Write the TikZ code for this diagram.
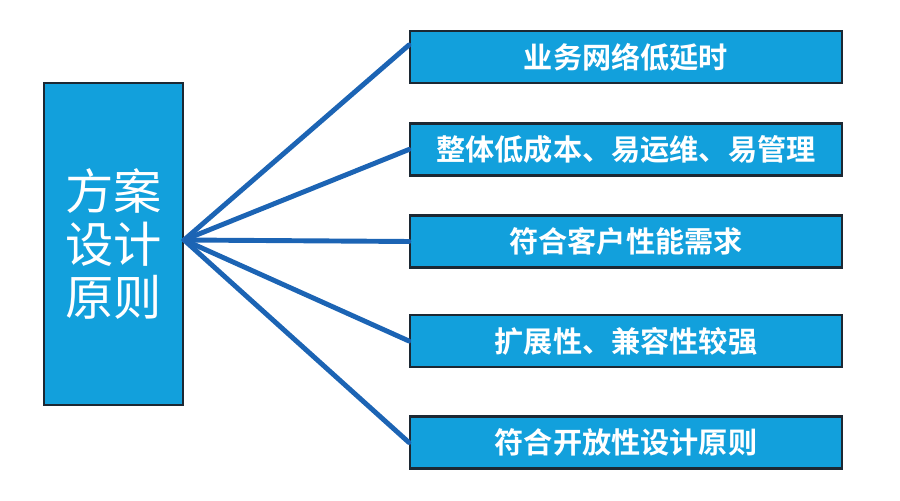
\documentclass[tikz,border=0pt]{standalone}
\usepackage{fontspec}
\usepackage{xcolor}
\usepackage{tikz}
\usetikzlibrary{positioning}
\newfontfamily\cjk{Noto Sans CJK SC}[BoldFont={Noto Sans CJK SC Bold}]
\definecolor{boxblue}{HTML}{12A0DC}
\definecolor{linkblue}{HTML}{1C64B4}
\definecolor{edgedark}{HTML}{1C2833}
\tikzset{
  % Diagram styles
  mainbox/.style={rectangle, minimum width=2.78cm, minimum height=6.44cm, draw=edgedark, line width=1.2pt, fill=boxblue, text=white, align=center, font=\cjk\fontsize{27.5}{30}\selectfont},
  itembox/.style={rectangle, minimum width=8.64cm, minimum height=1.04cm, draw=edgedark, line width=1.2pt, fill=boxblue, text=white, font=\cjk\bfseries\fontsize{16.6}{19}\selectfont},
  link/.style={draw=linkblue, line width=2.8pt, line cap=round},
}
\begin{document}
\begin{tikzpicture}
    \useasboundingbox (0,0) rectangle (18,10.02);

    % Left box
    \node[mainbox] (main) at (2.27,5.14) {方案\\设计\\原则};

    % Right boxes
    \node[itembox] (b1) at (12.52,8.88) {业务网络低延时};
    \node[itembox] (b2) at (12.52,7.03) {整体低成本、易运维、易管理};
    \node[itembox] (b3) at (12.52,5.19) {符合客户性能需求};
    \node[itembox] (b4) at (12.52,3.20) {扩展性、兼容性较强};
    \node[itembox] (b5) at (12.52,1.17) {符合开放性设计原则};

    % Links
    \coordinate (hub) at ([yshift=0.08cm]main.east);
    \draw[link] (hub) -- ([yshift=0.24cm]b1.west);
    \foreach \b in {b2,b3,b4,b5} {
      \draw[link] (hub) -- (\b.west);
    }
\end{tikzpicture}
\end{document}
